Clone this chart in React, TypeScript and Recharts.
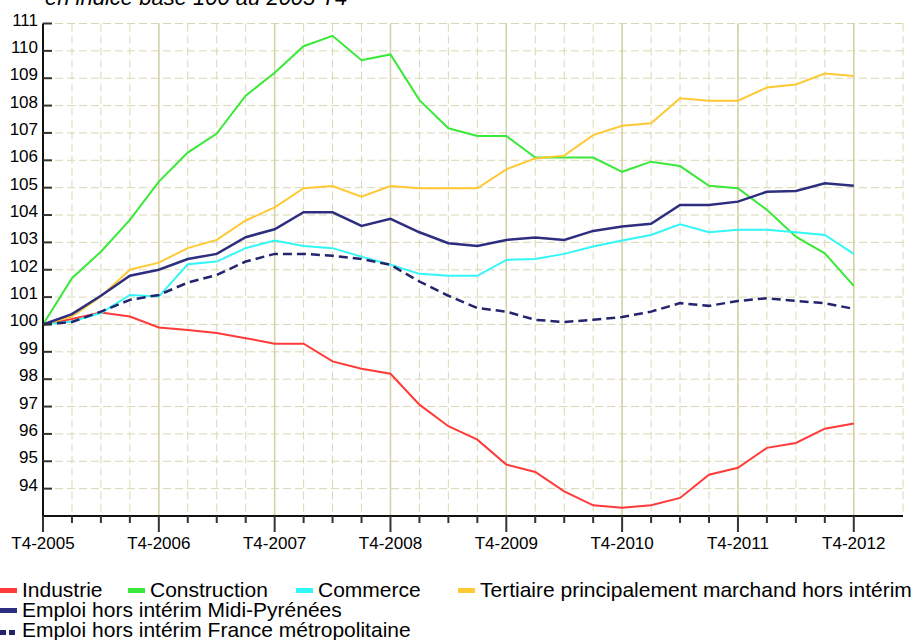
import React from "react";
import { CartesianGrid, Line, LineChart, ReferenceLine, XAxis, YAxis } from "recharts";

// quarterly index, base 100 at T4-2005 (29 quarters, T4-2005 .. T4-2012)
const yearLabels = ["T4-2005", "T4-2006", "T4-2007", "T4-2008", "T4-2009", "T4-2010", "T4-2011", "T4-2012"];
const yTicks = [94, 95, 96, 97, 98, 99, 100, 101, 102, 103, 104, 105, 106, 107, 108, 109, 110, 111];

const industrie = [100, 100.2, 100.44, 100.29, 99.89, 99.8, 99.69, 99.5, 99.3, 99.3, 98.65, 98.38, 98.2, 97.07, 96.28, 95.79, 94.88, 94.61, 93.9, 93.39, 93.3, 93.39, 93.66, 94.51, 94.76, 95.49, 95.67, 96.19, 96.38];
const construction = [100, 101.69, 102.66, 103.82, 105.22, 106.28, 106.98, 108.36, 109.2, 110.17, 110.55, 109.66, 109.87, 108.2, 107.17, 106.89, 106.89, 106.1, 106.1, 106.1, 105.58, 105.95, 105.79, 105.07, 104.98, 104.19, 103.21, 102.6, 101.41];
const commerce = [100, 100.11, 100.42, 101.08, 101.02, 102.2, 102.3, 102.79, 103.07, 102.87, 102.79, 102.48, 102.18, 101.85, 101.78, 101.78, 102.36, 102.39, 102.58, 102.85, 103.07, 103.27, 103.66, 103.37, 103.46, 103.46, 103.37, 103.27, 102.58];
const tertiaire = [100, 100.29, 101.02, 102.0, 102.26, 102.79, 103.09, 103.8, 104.28, 104.98, 105.06, 104.67, 105.06, 104.98, 104.98, 104.98, 105.67, 106.07, 106.17, 106.92, 107.26, 107.35, 108.27, 108.18, 108.18, 108.66, 108.77, 109.17, 109.08];
const midiPyrenees = [100, 100.38, 101.05, 101.78, 102.0, 102.39, 102.58, 103.19, 103.48, 104.1, 104.1, 103.6, 103.86, 103.37, 102.97, 102.87, 103.09, 103.18, 103.09, 103.42, 103.58, 103.68, 104.37, 104.37, 104.49, 104.85, 104.88, 105.16, 105.07];
const franceMetro = [100, 100.09, 100.47, 100.9, 101.08, 101.53, 101.81, 102.3, 102.58, 102.58, 102.51, 102.39, 102.18, 101.57, 101.05, 100.6, 100.47, 100.17, 100.09, 100.17, 100.27, 100.47, 100.78, 100.68, 100.86, 100.96, 100.86, 100.78, 100.57];

const COLORS = {
  industrie: "#ff3a3a",
  construction: "#3ae83a",
  commerce: "#33f6f6",
  tertiaire: "#ffc933",
  midi: "#2e2e80",
  france: "#24246e",
};

const FONT = "'Liberation Sans', Arial, sans-serif";

const data = industrie.map((v, q) => ({
  q,
  industrie: v,
  construction: construction[q],
  commerce: commerce[q],
  tertiaire: tertiaire[q],
  midi: midiPyrenees[q],
  france: franceMetro[q],
}));

const quarterTicks = data.map((d) => d.q);
const yearTicks = quarterTicks.filter((q) => q % 4 === 0);

function XTick(props: any) {
  const { x, y, payload } = props;
  const major = payload.value % 4 === 0;
  return (
    <g>
      <line x1={x} x2={x} y1={y} y2={y + (major ? 16 : 7)} stroke="#333" strokeWidth={2} />
      {major && (
        <text x={x} y={y + 33} textAnchor="middle" fontSize={17} fontFamily={FONT} fill="#000">
          {yearLabels[payload.value / 4]}
        </text>
      )}
    </g>
  );
}

function YTick(props: any) {
  const { x, y, payload } = props;
  return (
    <g>
      <line x1={x} x2={x + 9} y1={y} y2={y} stroke="#333" strokeWidth={2} />
      <text x={x - 5} y={y + 2} textAnchor="end" fontSize={17} fontFamily={FONT} fill="#000">
        {payload.value}
      </text>
    </g>
  );
}

const legendRow1 = [
  { label: "Industrie", color: COLORS.industrie, left: 0 },
  { label: "Construction", color: COLORS.construction, left: 128 },
  { label: "Commerce", color: COLORS.commerce, left: 296 },
  { label: "Tertiaire principalement marchand hors intérim", color: COLORS.tertiaire, left: 458 },
];

function Overlay() {
  return (
    <svg width={916} height={640} style={{ position: "absolute", left: 0, top: 0, pointerEvents: "none" }}>
      <text x={45} y={5} fontSize={22} fontStyle="italic" fontFamily={FONT} fill="#000">
        en indice base 100 au 2005 T4
      </text>
      <g fontSize={21} fontFamily={FONT} fill="#000">
        {legendRow1.map((it) => (
          <g key={it.label}>
            <rect x={it.left} y={588} width={17} height={5} fill={it.color} />
            <text x={it.left + 22} y={597}>{it.label}</text>
          </g>
        ))}
        <rect x={0} y={608} width={17} height={5} fill={COLORS.midi} />
        <text x={22} y={617}>Emploi hors intérim Midi-Pyrénées</text>
        <rect x={0} y={630} width={6} height={5} fill={COLORS.france} />
        <rect x={9} y={630} width={6} height={5} fill={COLORS.france} />
        <text x={22} y={637}>Emploi hors intérim France métropolitaine</text>
      </g>
    </svg>
  );
}

export default function App() {
  return (
    <div style={{ position: "absolute", left: 0, top: 0, width: 916, height: 640, overflow: "hidden", background: "#fff" }}>
      <LineChart width={916} height={560} data={data} margin={{ top: 23.5, right: 13, bottom: 0, left: 0 }}>
        <CartesianGrid stroke="#d9d8b4" strokeDasharray="8 4" />
        {yearTicks.map((q) => (
          <ReferenceLine key={q} x={q} stroke="#d3d1a6" strokeWidth={1.5} />
        ))}
        <XAxis
          dataKey="q"
          type="number"
          domain={[0, 29.7]}
          ticks={quarterTicks}
          interval={0}
          tickSize={0}
          tickMargin={0}
          tickLine={false}
          tick={<XTick />}
          height={44}
          axisLine={{ stroke: "#111", strokeWidth: 2 }}
        />
        <YAxis
          type="number"
          domain={[93, 111]}
          ticks={yTicks}
          interval={0}
          tickSize={0}
          tickMargin={0}
          tickLine={false}
          tick={<YTick />}
          width={43}
          axisLine={{ stroke: "#111", strokeWidth: 2 }}
        />
        <Line type="linear" dataKey="industrie" stroke={COLORS.industrie} strokeWidth={2} dot={false} isAnimationActive={false} />
        <Line type="linear" dataKey="construction" stroke={COLORS.construction} strokeWidth={2} dot={false} isAnimationActive={false} />
        <Line type="linear" dataKey="commerce" stroke={COLORS.commerce} strokeWidth={2} dot={false} isAnimationActive={false} />
        <Line type="linear" dataKey="tertiaire" stroke={COLORS.tertiaire} strokeWidth={2} dot={false} isAnimationActive={false} />
        <Line type="linear" dataKey="midi" stroke={COLORS.midi} strokeWidth={2.5} dot={false} isAnimationActive={false} />
        <Line type="linear" dataKey="france" stroke={COLORS.france} strokeWidth={2.5} strokeDasharray="9 5" dot={false} isAnimationActive={false} />
      </LineChart>
      <Overlay />
    </div>
  );
}
